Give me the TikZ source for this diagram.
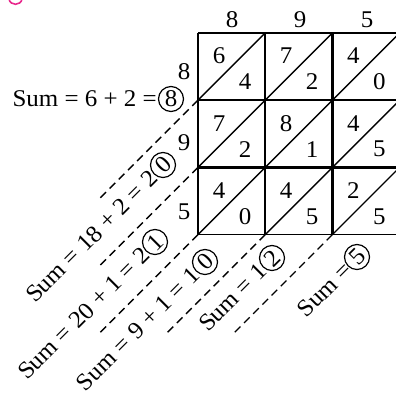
\documentclass[tikz,border=0pt]{standalone}
\usepackage{fontspec}
\usetikzlibrary{calc}
\setmainfont{Liberation Serif}[FakeStretch=1.04]
\definecolor{pinkmark}{RGB}{232,40,140}
\begin{document}
\begin{tikzpicture}[x=1pt,y=-1pt,
  gridline/.style={line width=1.7pt},
  innerline/.style={line width=2.2pt},
  diagline/.style={line width=1.4pt},
  dashline/.style={line width=1.4pt,dash pattern=on 8pt off 5pt},
  numtxt/.style={inner sep=0pt,font=\fontsize{24}{28}\selectfont},
  lbl/.style={inner sep=0pt,font=\fontsize{24}{28}\selectfont},
  cnum/.style={circle,draw,line width=1.2pt,inner sep=0pt,minimum size=25pt,font=\fontsize{24}{28}\selectfont}]
\useasboundingbox (0,0) rectangle (396,397);
\clip (0,0) rectangle (396,397);
% corners
\foreach \i in {0,...,3}{\foreach \j in {0,...,3}{
  \coordinate (p-\i-\j) at (198+67.2*\i,33+67.2*\j);}}
% grid
\draw[gridline] (p-0-0) -- (p-3-0);
\draw[gridline] (p-0-0) -- (p-0-3);
\draw[gridline] (p-0-3) -- (p-3-3);
\draw[innerline] (p-0-1) -- (p-3-1);
\draw[innerline] (p-0-2) -- (p-3-2);
\draw[innerline] (p-1-0) -- (p-1-3);
\draw[innerline] (p-2-0) -- (p-2-3);
\draw[gridline] (p-3-0) -- (p-3-3);
% diagonals
\foreach \i in {0,1,2}{\foreach \j in {0,1,2}{
  \pgfmathtruncatemacro\ii{\i+1}\pgfmathtruncatemacro\jj{\j+1}
  \draw[diagline] (p-\i-\jj) -- (p-\ii-\j);}}
% cell numbers
\foreach \i/\j/\u/\l in {0/0/6/4,1/0/7/2,2/0/4/0,0/1/7/2,1/1/8/1,2/1/4/5,0/2/4/0,1/2/4/5,2/2/2/5}{
  \node[numtxt] (u-\i-\j) at ($(p-\i-\j)+(21,23)$) {\u};
  \node[numtxt] (l-\i-\j) at ($(p-\i-\j)+(47,49)$) {\l};}
% headers
\node[numtxt] (h1) at (232,20) {8};
\node[numtxt] (h2) at (300,20) {9};
\node[numtxt] (h3) at (367,20) {5};
\node[numtxt] (r1) at (184,72) {8};
\node[numtxt] (r2) at (184,143) {9};
\node[numtxt] (r3) at (184,212) {5};
% dashed extensions
\coordinate (e1) at ($(p-0-1)+(-98,98)$);
\coordinate (e2) at ($(p-0-2)+(-98,98)$);
\coordinate (e3) at ($(p-0-3)+(-98,98)$);
\coordinate (e4) at ($(p-1-3)+(-98,98)$);
\coordinate (e5) at ($(p-2-3)+(-98,98)$);
\draw[dashline] (p-0-1) -- (e1);
\draw[dashline] (p-0-2) -- (e2);
\draw[dashline] (p-0-3) -- (e3);
\draw[dashline] (p-1-3) -- (e4);
\draw[dashline] (p-2-3) -- (e5);
% labels
\node[cnum] (c1) at (171,99) {8};
\node[lbl,anchor=east] (t1) at ([xshift=-1pt]c1.west) {Sum = 6 + 2 =};
\node[cnum,rotate=45] (c2) at (163,165) {0};
\node[lbl,rotate=45,anchor=east] (t2) at (c2.west) {Sum = 18 + 2 = 2};
\node[cnum,rotate=45] (c3) at (155,242) {1};
\node[lbl,rotate=45,anchor=east] (t3) at (c3.west) {Sum = 20 + 1 = 2};
\node[cnum,rotate=45] (c4) at (205,262) {0};
\node[lbl,rotate=45,anchor=east] (t4) at (c4.west) {Sum = 9 + 1 = 1};
\node[cnum,rotate=45] (c5) at (272,258) {2};
\node[lbl,rotate=45,anchor=east] (t5) at (c5.west) {Sum = 1};
\node[cnum,rotate=45] (c6) at (357,257) {5};
\node[lbl,rotate=45,anchor=east] (t6) at (c6.west) {Sum =};
% cut-off magenta fragment
\draw[pinkmark,line width=1.6pt] (9,-1) .. controls (10,6) and (21,6) .. (22,-1);
\end{tikzpicture}
\end{document}
